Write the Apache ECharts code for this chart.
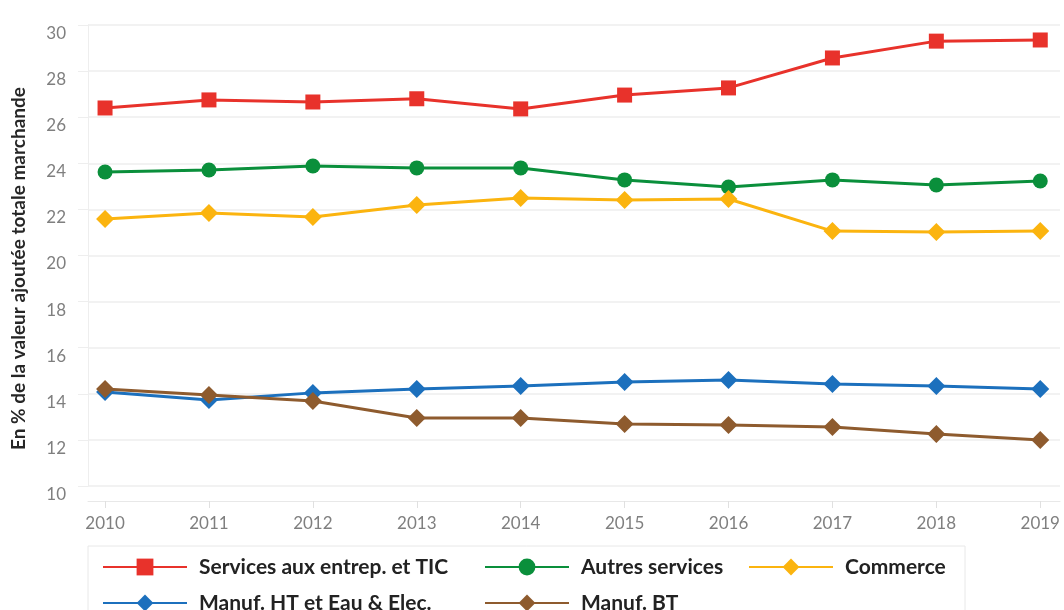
<!DOCTYPE html>
<html>
<head>
<meta charset="utf-8">
<script src="https://cdn.jsdelivr.net/npm/echarts@6/dist/echarts.min.js"></script>
<style>
html,body{margin:0;padding:0;background:#fff;}
#chart{width:1064px;height:610px;}
</style>
</head>
<body>
<div id="chart"></div>
<script>
const years = [2010, 2011, 2012, 2013, 2014, 2015, 2016, 2017, 2018, 2019];
const seriesNames = ['Services aux entrep. et TIC', 'Autres services', 'Commerce', 'Manuf. HT et Eau & Elec.', 'Manuf. BT'];
const servicesTIC = [26.4, 26.75, 26.66, 26.8, 26.36, 26.96, 27.27, 28.57, 29.3, 29.35];
const autresServices = [23.62, 23.71, 23.88, 23.8, 23.8, 23.28, 22.97, 23.28, 23.06, 23.23];
const commerce = [21.58, 21.84, 21.67, 22.19, 22.49, 22.41, 22.45, 21.06, 21.02, 21.06];
const manufHT = [14.08, 13.73, 14.04, 14.21, 14.34, 14.51, 14.6, 14.43, 14.34, 14.21];
const manufBT = [14.21, 13.95, 13.69, 12.95, 12.95, 12.69, 12.65, 12.56, 12.26, 12.0];
const yTicks = [10, 12, 14, 16, 18, 20, 22, 24, 26, 28, 30];
const yTitle = 'En % de la valeur ajoutée totale marchande';

const colors = ['#e8322b', '#0a8f3b', '#fbb40f', '#1c70bd', '#8e5b2e'];
const symbols = ['rect', 'circle', 'diamond', 'diamond', 'diamond'];
const symbolSizes = [15, 15, 18, 18, 18];
const dataSets = [servicesTIC, autresServices, commerce, manufHT, manufBT];
const richKeys = ['a', 'b', 'c', 'a', 'b'];

const chart = echarts.init(document.getElementById('chart'), null, {renderer: 'canvas'});
const font = 'Lato, "Open Sans", sans-serif';
const richBase = {height: 36, lineHeight: 36, fontSize: 21, fontWeight: 'bold', color: '#222', fontFamily: font, padding: [0, 0, 0, 7]};

const option = {
  animation: false,
  backgroundColor: '#ffffff',
  grid: {left: 88, right: 4, top: 25, bottom: 124, containLabel: false},
  xAxis: {
    type: 'value',
    min: 2009.836,
    max: 2019.19,
    offset: 15,
    axisLine: {show: true, lineStyle: {color: '#e8e8e8', width: 1}},
    axisTick: {show: true, customValues: years, length: 7, lineStyle: {color: '#e0e0e0'}},
    axisLabel: {customValues: years, color: '#7f7f7f', fontSize: 17, fontFamily: font, margin: 14, formatter: v => String(Math.round(v))},
    splitLine: {show: false}
  },
  yAxis: {
    type: 'value',
    min: 10,
    max: 30,
    interval: 2,
    name: yTitle,
    nameLocation: 'middle',
    nameGap: 60,
    nameRotate: 90,
    nameTextStyle: {color: '#262626', fontSize: 19, fontWeight: 'bold', fontFamily: font, padding: [0, 26, 0, 0]},
    axisLine: {show: true, lineStyle: {color: '#eeeeee'}},
    axisTick: {show: true, length: 10, lineStyle: {color: '#eeeeee'}},
    axisLabel: {color: '#7f7f7f', fontSize: 17, fontFamily: font, margin: 22, verticalAlign: 'top', lineHeight: 17,
      formatter: v => yTicks.includes(v) ? String(v) : ''},
    splitLine: {show: true, lineStyle: {color: '#f2f2f2', width: 2}}
  },
  legend: {
    left: 88,
    top: 546,
    width: 870,
    padding: [3, 14, 3, 14],
    itemGap: 0,
    itemWidth: 84,
    itemHeight: 21,
    borderColor: '#e8e8e8',
    borderWidth: 1,
    data: seriesNames,
    formatter: name => '{' + richKeys[seriesNames.indexOf(name)] + '|' + name + '}',
    textStyle: {
      color: '#222222', fontSize: 21, fontWeight: 'bold', fontFamily: font,
      rich: {
        a: Object.assign({width: 285}, richBase),
        b: Object.assign({width: 167}, richBase),
        c: Object.assign({width: 106}, richBase)
      }
    }
  },
  series: seriesNames.map((name, i) => ({
    name: name,
    type: 'line',
    data: years.map((y, j) => [y, dataSets[i][j]]),
    symbol: symbols[i],
    symbolSize: symbolSizes[i],
    showAllSymbol: true,
    lineStyle: {color: colors[i], width: 3},
    itemStyle: {color: colors[i]},
    emphasis: {disabled: true},
    z: 2 + i
  }))
};
chart.setOption(option);
</script>
</body>
</html>
